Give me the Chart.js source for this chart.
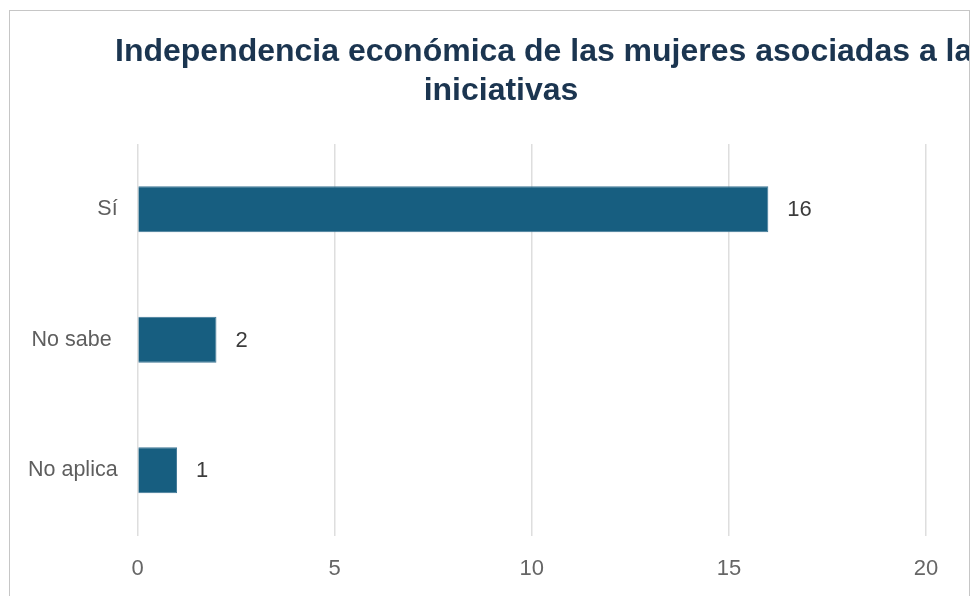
<!DOCTYPE html>
<html>
<head>
<meta charset="utf-8">
<script src="https://cdn.jsdelivr.net/npm/chart.js@4"></script>
<style>
  html, body { margin: 0; padding: 0; background: #fff; }
  body { width: 972px; height: 596px; position: relative; overflow: hidden; }
  #frame { position: absolute; left: 9px; top: 10px; width: 959px; height: 700px;
           border: 1px solid #c6c6c6; overflow: hidden; box-sizing: content-box; }
  #c { position: absolute; left: -10px; top: -11px; }
</style>
</head>
<body>
<div id="frame"><canvas id="c" width="972" height="616"></canvas></div>
<script>
const titleLines = ["Independencia económica de las mujeres asociadas a las", "iniciativas"];
const categories = ["Sí", "No sabe ", "No aplica"];
const values = [16, 2, 1];
const xTicks = [0, 5, 10, 15, 20];

const FONT = "'Liberation Sans', Arial, Helvetica, sans-serif";

const titlePlugin = {
  id: 'customTitle',
  afterDraw(chart) {
    const ctx = chart.ctx;
    ctx.save();
    ctx.fillStyle = '#1b3550';
    ctx.font = 'bold 32px ' + FONT;
    ctx.textBaseline = 'alphabetic';
    ctx.textAlign = 'left';
    ctx.fillText(titleLines[0], 115, 61);
    ctx.textAlign = 'center';
    ctx.fillText(titleLines[1], 501, 100);
    ctx.restore();
  }
};

const valueLabels = {
  id: 'valueLabels',
  afterDatasetsDraw(chart) {
    const ctx = chart.ctx;
    const meta = chart.getDatasetMeta(0);
    ctx.save();
    ctx.fillStyle = '#3c3c3c';
    ctx.font = '22px ' + FONT;
    ctx.textAlign = 'left';
    ctx.textBaseline = 'middle';
    meta.data.forEach((bar, i) => {
      ctx.fillText(String(values[i]), bar.x + 19, bar.y + 1);
    });
    ctx.restore();
  }
};

new Chart(document.getElementById('c'), {
  type: 'bar',
  data: {
    labels: categories,
    datasets: [{
      data: values,
      backgroundColor: '#175e80',
      borderColor: '#3f7896',
      borderWidth: 1,
      categoryPercentage: 0.8,
      barPercentage: 0.44
    }]
  },
  options: {
    indexAxis: 'y',
    responsive: false,
    animation: false,
    devicePixelRatio: 1,
    layout: { padding: { left: 8, top: 144, right: 46, bottom: 14 } },
    plugins: {
      legend: { display: false },
      title: { display: false },
      tooltip: { enabled: false }
    },
    scales: {
      x: {
        min: 0, max: 20,
        afterBuildTicks(scale) { scale.ticks = xTicks.map(v => ({ value: v })); },
        grid: { color: '#dedede', lineWidth: 1.5, drawTicks: false },
        border: { display: false },
        ticks: { color: '#666', font: { family: FONT, size: 22 }, padding: 20 }
      },
      y: {
        grid: { display: false, drawTicks: false },
        border: { display: false },
        ticks: { color: '#5e5e5e', font: { family: FONT, size: 21.5 }, padding: 20 }
      }
    }
  },
  plugins: [titlePlugin, valueLabels]
});
</script>
</body>
</html>
